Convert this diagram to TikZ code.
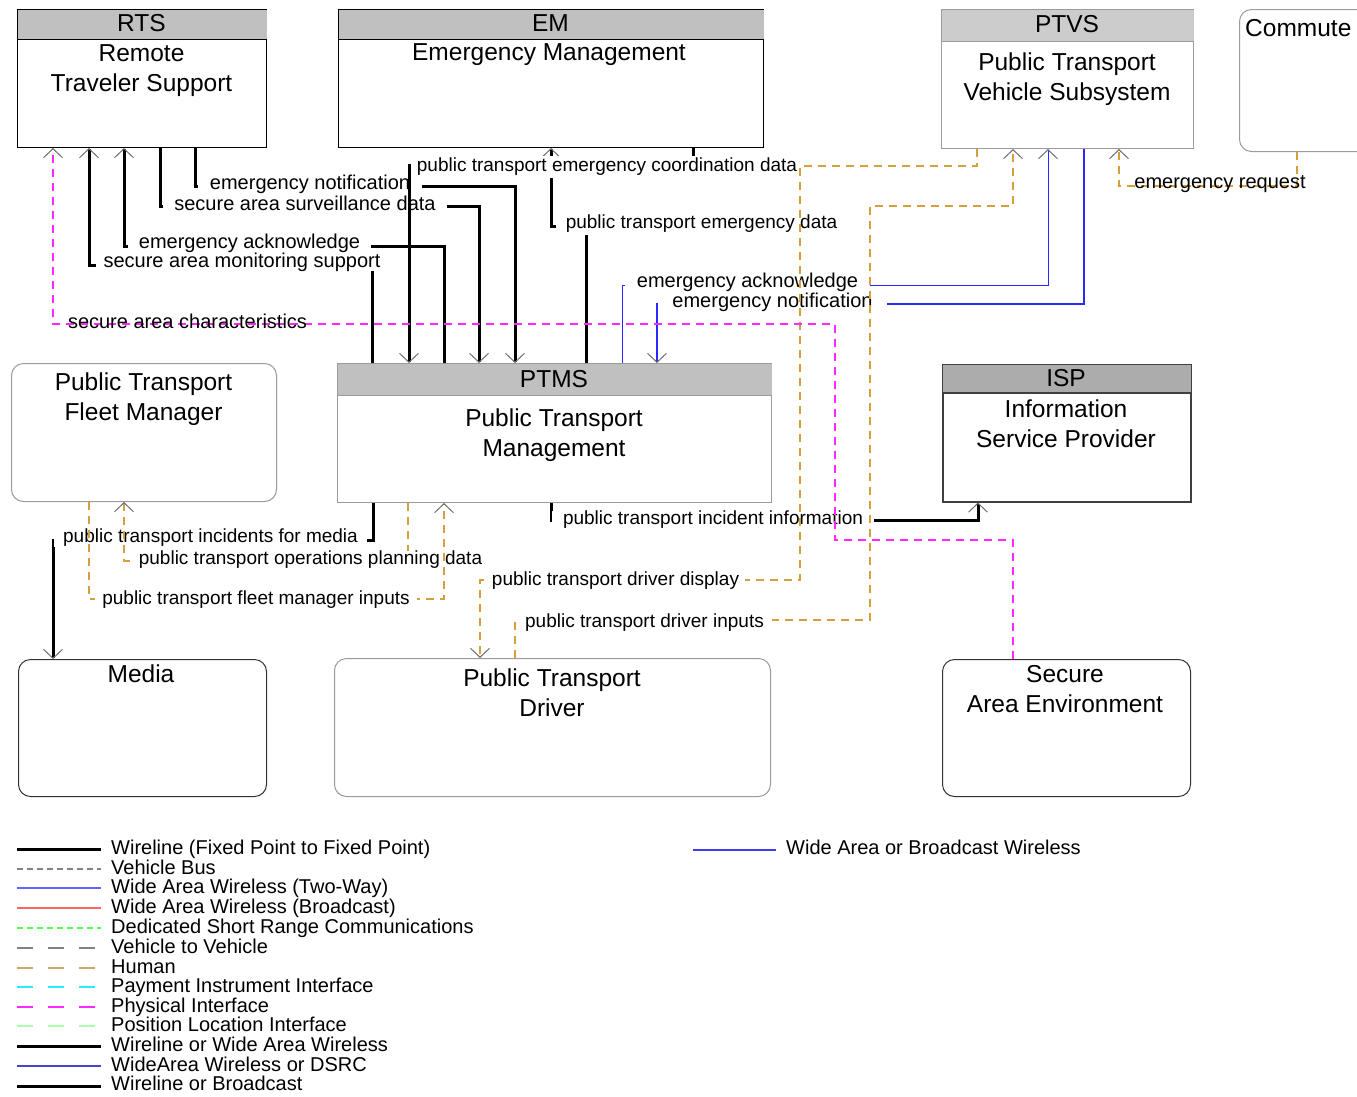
\documentclass[tikz,border=0pt]{standalone}
\usepackage{fontspec}
\setmainfont{Liberation Sans}
\usetikzlibrary{arrows.meta}
\definecolor{human}{RGB}{212,160,60}
\definecolor{humleg}{RGB}{200,170,110}
\definecolor{physc}{RGB}{255,40,255}
\definecolor{wblue}{RGB}{40,40,255}
\definecolor{hdrA}{RGB}{192,192,192}
\definecolor{hdrB}{RGB}{204,204,204}
\definecolor{hdrC}{RGB}{172,172,172}
\definecolor{bgray}{RGB}{155,155,155}
\definecolor{tipgray}{RGB}{110,110,110}
\definecolor{legcyan}{RGB}{40,235,250}
\definecolor{legmag}{RGB}{255,40,255}
\definecolor{legdsrc}{RGB}{80,255,80}
\definecolor{legpos}{RGB}{170,255,170}
\definecolor{legblue}{RGB}{100,100,255}
\definecolor{legred}{RGB}{255,100,100}
\definecolor{legblue2}{RGB}{70,70,200}
\definecolor{legblue3}{RGB}{60,60,240}
\definecolor{leggray}{RGB}{130,130,130}
\begin{document}
\begin{tikzpicture}[x=1pt,y=-1pt,
  lblfont/.style={font=\fontsize{20}{22}\selectfont},
  ptfont/.style={font=\fontsize{19}{22}\selectfont},
  ttl/.style={font=\fontsize{24.5}{30}\selectfont, inner sep=0pt, align=center},
  sysbox/.style={draw=black, line width=1pt, anchor=north west, inner sep=0pt},
  grbox/.style={draw=bgray, line width=1pt, anchor=north west, inner sep=0pt},
  rbox/.style={draw=bgray, line width=1pt, rounded corners=12pt, anchor=north west, inner sep=0pt},
  dbox/.style={draw=black!80, line width=1pt, rounded corners=12pt, anchor=north west, inner sep=0pt},
  wire/.style={line width=3pt, black},
  hum/.style={human, line width=1.3pt, dash pattern=on 8pt off 6pt},
  phy/.style={physc, line width=1.2pt, dash pattern=on 8pt off 6pt},
  wl/.style={wblue, line width=1.2pt},
  ar/.style={-{Straight Barb[length=9pt,width=19pt,line width=1pt,color=tipgray]}},
  lbl/.style={lblfont, fill=white, inner xsep=8pt, inner ysep=0pt},
  plbl/.style={ptfont, fill=white, inner xsep=8pt, inner ysep=0pt, yshift=-2pt},
  lblc/.style={lblfont, inner sep=0pt},
  leg/.style={lblfont, anchor=west, inner sep=0pt, text height=14pt, text depth=4pt, yshift=-1pt},
  legline/.style={line width=1.3pt},
]
\fill[white] (0,0) rectangle (1357,1096);
\useasboundingbox (0,0) rectangle (1357,1096);

% ---------- boxes ----------
\node[sysbox, minimum width=249pt, minimum height=138pt] (rts) at (17,9) {};
\fill[hdrA] ([shift={(0.5pt,-0.5pt)}]rts.north west) rectangle ([shift={(-0.5pt,-30pt)}]rts.north east);
\draw[line width=1pt] ([yshift=-30pt]rts.north west) -- ([yshift=-30pt]rts.north east);
\node[ttl] (rtsH) at (141.5,23) {RTS};
\node[ttl] (rtsN) at (141.5,71) {Remote\\Traveler Support};

\node[sysbox, minimum width=425pt, minimum height=138pt] (em) at (338,9) {};
\fill[hdrA] ([shift={(0.5pt,-0.5pt)}]em.north west) rectangle ([shift={(-0.5pt,-30pt)}]em.north east);
\draw[line width=1pt] ([yshift=-30pt]em.north west) -- ([yshift=-30pt]em.north east);
\node[ttl] (emH) at (550.5,23) {EM};
\node[ttl] (emN) at (549,55) {Emergency Management};

\node[grbox, minimum width=252pt, minimum height=139pt] (ptvs) at (941,9) {};
\fill[hdrB] ([shift={(0.5pt,-0.5pt)}]ptvs.north west) rectangle ([shift={(-0.5pt,-32pt)}]ptvs.north east);
\draw[bgray, line width=1pt] ([yshift=-32pt]ptvs.north west) -- ([yshift=-32pt]ptvs.north east);
\node[ttl] (ptvsH) at (1067,24) {PTVS};
\node[ttl] (ptvsN) at (1067,79) {Public Transport\\Vehicle Subsystem};

\node[rbox, minimum width=150pt, minimum height=142pt] (comm) at (1239,9) {};
\node[ttl, anchor=west] (commN) at (1245,28) {Commute};

\node[rbox, minimum width=265pt, minimum height=138pt] (fm) at (11,363) {};
\node[ttl] (fmN) at (143.5,399) {Public Transport\\Fleet Manager};

\node[grbox, minimum width=434pt, minimum height=139pt] (ptms) at (337,363) {};
\fill[hdrA] ([shift={(0.5pt,-0.5pt)}]ptms.north west) rectangle ([shift={(-0.5pt,-32pt)}]ptms.north east);
\draw[bgray, line width=1pt] ([yshift=-32pt]ptms.north west) -- ([yshift=-32pt]ptms.north east);
\node[ttl] (ptmsH) at (554,379) {PTMS};
\node[ttl] (ptmsN) at (554,435) {Public Transport\\Management};

\node[sysbox, draw=black!75, line width=1.5pt, minimum width=248pt, minimum height=137pt] (isp) at (942,364) {};
\fill[hdrC] ([shift={(0.75pt,-0.75pt)}]isp.north west) rectangle ([shift={(-0.75pt,-29pt)}]isp.north east);
\draw[black!75, line width=1.5pt] ([yshift=-29pt]isp.north west) -- ([yshift=-29pt]isp.north east);
\node[ttl] (ispH) at (1066,378) {ISP};
\node[ttl] (ispN) at (1066,424) {Information\\Service Provider};

\node[dbox, minimum width=248pt, minimum height=137pt] (media) at (18,659) {};
\node[ttl] (mediaN) at (141,674) {Media};

\node[rbox, minimum width=436pt, minimum height=138pt] (drv) at (334,658) {};
\node[ttl] (drvN) at (552,693) {Public Transport\\Driver};

\node[dbox, minimum width=248pt, minimum height=137pt] (sae) at (942,659) {};
\node[ttl] (saeN) at (1065,689) {Secure\\Area Environment};

% ---------- connectors ----------
% secure area monitoring support
\draw[wire, ar] (372,0 |- ptms.north) -- (372,265) -- (89,265) -- (89,0 |- rts.south);
\node[lbl] (l1) at (242,262) {secure area monitoring support};
% emergency acknowledge (RTS)
\draw[wire, ar] (444,0 |- ptms.north) -- (444,246) -- (124,246) -- (124,0 |- rts.south);
\node[lbl, inner xsep=11pt] (l2) at (249.5,243) {emergency acknowledge};
% secure area surveillance data
\draw[wire, ar] (160,0 |- rts.south) -- (160,206) -- (479,206) -- (479,0 |- ptms.north);
\node[lbl, inner xsep=11pt] (l3) at (305,203) {secure area surveillance data};
% emergency notification (RTS)
\draw[wire, ar] (195,0 |- rts.south) -- (195,186) -- (515,186) -- (515,0 |- ptms.north);
\node[lbl, inner xsep=12pt] (l4) at (310,184) {emergency notification};
% public transport emergency data
\draw[wire, ar] (586,0 |- ptms.north) -- (586,226) -- (551,226) -- (551,0 |- em.south);
\node[plbl, inner xsep=10pt, inner ysep=2pt] (l5) at (701.5,222) {public transport emergency data};
% public transport emergency coordination data
\draw[wire, ar] (693,0 |- em.south) -- (693,165) -- (409,165) -- (409,0 |- ptms.north);
\node[plbl, inner xsep=6pt, inner ysep=2pt] (l6) at (607,165) {public transport emergency coordination data};
% emergency acknowledge (PTVS)
\draw[wl, line width=1pt, ar] (622,0 |- ptms.north) -- (622,285) -- (1048,285) -- (1048,0 |- ptvs.south);
\node[lbl, inner xsep=12pt] (l7) at (747.5,282) {emergency acknowledge};
% emergency notification (PTVS)
\draw[wl, ar] (1084,0 |- ptvs.south) -- (1084,304) -- (657,304) -- (657,0 |- ptms.north);
\node[lbl, inner xsep=14pt] (l8) at (772.5,302) {emergency notification};
% public transport incident information
\draw[wire, ar] (551,0 |- ptms.south) -- (551,520) -- (978,520) -- (978,0 |- isp.south);
\node[plbl, inner xsep=11pt] (l9) at (713,518) {public transport incident information};
% public transport incidents for media
\draw[wire, ar] (373,0 |- ptms.south) -- (373,540) -- (53,540) -- (53,0 |- media.north);
\node[plbl, inner xsep=9pt] (l10) at (210.5,536) {public transport incidents for media};
% public transport operations planning data
\draw[hum, ar] (408,0 |- ptms.south) -- (408,561) -- (124,561) -- (124,0 |- fm.south);
\node[plbl, inner xsep=9pt] (l11) at (310.5,558) {public transport operations planning data};
% public transport fleet manager inputs
\draw[hum, ar] (89,0 |- fm.south) -- (89,599) -- (444,599) -- (444,0 |- ptms.south);
\node[plbl, inner xsep=7pt] (l12) at (256,598) {public transport fleet manager inputs};
% public transport driver display
\draw[hum, ar] (977,0 |- ptvs.south) -- (977,166) -- (800,166) -- (800,580) -- (480,580) -- (480,0 |- drv.north);
\node[plbl, inner xsep=6pt] (l13) at (615.5,579) {public transport driver display};
% public transport driver inputs
\draw[hum, ar] (515,0 |- drv.north) -- (515,620) -- (870,620) -- (870,206) -- (1013,206) -- (1013,0 |- ptvs.south);
\node[plbl, inner xsep=8pt] (l14) at (644.5,621) {public transport driver inputs};
% emergency request
\draw[hum, ar] (1297,0 |- comm.south) -- (1297,186) -- (1119,186) -- (1119,0 |- ptvs.south);
\node[lblc] (l15) at (1220,184) {emergency request};
% secure area characteristics
\draw[phy, ar] (1013,0 |- sae.north) -- (1013,540) -- (835,540) -- (835,324) -- (53,324) -- (53,0 |- rts.south);
\node[lblc] (l16) at (187.5,321) {secure area characteristics};

% ---------- legend ----------
\draw[wire] (17,849) -- (101,849);
\node[leg] (g1) at (111,848) {Wireline (Fixed Point to Fixed Point)};
\draw[leggray, legline, dash pattern=on 6pt off 4pt] (17,869) -- (101,869);
\node[leg] (g2) at (111,868) {Vehicle Bus};
\draw[legblue, legline] (17,888) -- (101,888);
\node[leg] (g3) at (111,887) {Wide Area Wireless (Two-Way)};
\draw[legred, legline] (17,908) -- (101,908);
\node[leg] (g4) at (111,907) {Wide Area Wireless (Broadcast)};
\draw[legdsrc, legline, dash pattern=on 6pt off 4pt] (17,928) -- (101,928);
\node[leg] (g5) at (111,927) {Dedicated Short Range Communications};
\draw[leggray, legline, dash pattern=on 16pt off 15pt] (17,948) -- (101,948);
\node[leg] (g6) at (111,947) {Vehicle to Vehicle};
\draw[humleg, legline, dash pattern=on 16pt off 15pt] (17,968) -- (101,968);
\node[leg] (g7) at (111,967) {Human};
\draw[legcyan, legline, dash pattern=on 16pt off 15pt] (17,987) -- (101,987);
\node[leg] (g8) at (111,986) {Payment Instrument Interface};
\draw[legmag, legline, dash pattern=on 16pt off 15pt] (17,1007) -- (101,1007);
\node[leg] (g9) at (111,1006) {Physical Interface};
\draw[legpos, legline, dash pattern=on 16pt off 15pt] (17,1026) -- (101,1026);
\node[leg] (g10) at (111,1025) {Position Location Interface};
\draw[wire] (17,1046) -- (101,1046);
\node[leg] (g11) at (111,1045) {Wireline or Wide Area Wireless};
\draw[legblue2, legline] (17,1066) -- (101,1066);
\node[leg] (g12) at (111,1065) {WideArea Wireless or DSRC};
\draw[wire] (17,1086) -- (101,1086);
\node[leg] (g13) at (111,1084) {Wireline or Broadcast};
\draw[legblue3, legline] (693,850) -- (776,850);
\node[leg] (g14) at (786,848) {Wide Area or Broadcast Wireless};
\end{tikzpicture}
\end{document}
